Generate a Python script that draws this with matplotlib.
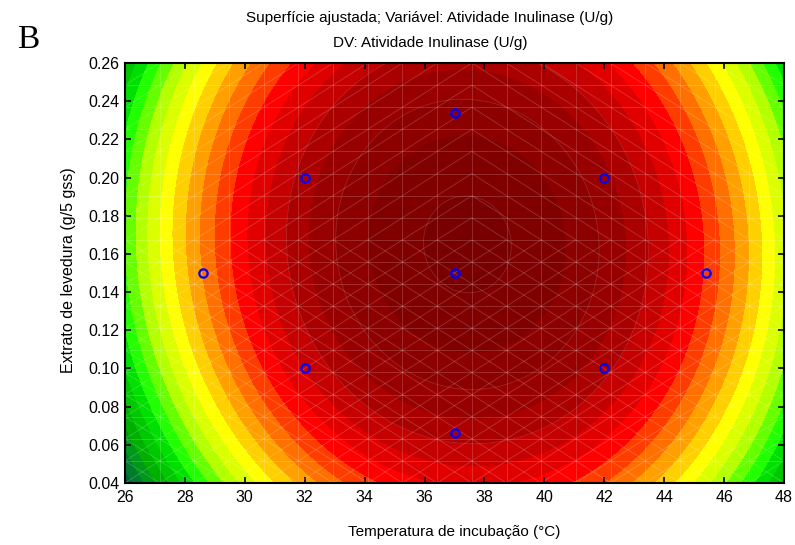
import numpy as np
import matplotlib.pyplot as plt
from matplotlib.colors import ListedColormap, BoundaryNorm
from matplotlib.collections import LineCollection

plt.rcParams['font.family'] = ['Liberation Sans', 'DejaVu Sans']

# Pontos experimentais do planejamento (DCCR)
temp_pts = [32, 32, 42, 42, 28.6, 45.4, 37, 37, 37]
ext_pts = [0.10, 0.20, 0.10, 0.20, 0.15, 0.15, 0.066, 0.234, 0.15]

# Modelo ajustado (forma canônica em torno do ótimo)
t_opt = 37.43      # °C
e_opt = 0.165      # g/5 gss
ativ_max = 49.5    # U/g
k_tt = 0.2332
k_ee = 780.0
k_te = 0.92

# Níveis das curvas e cores das faixas (do menor para o maior)
niveis = np.arange(5, 53, 2)
cores = ['#00643a', '#007d2c', '#009818', '#00b000', '#00c800', '#00e000',
         '#22ff00', '#66ff00', '#b4ff00', '#dcff00', '#ffff00', '#ffd000',
         '#ffa000', '#ff7000', '#ff3c00', '#ff0000', '#e00000', '#c40000',
         '#aa0000', '#980000', '#8c0000', '#800000', '#780000']

x_ticks = np.arange(26, 49, 2)
y_ticks = np.arange(0.04, 0.261, 0.02)
x_lim = (26, 48)
y_lim = (0.04, 0.26)

T, E = np.meshgrid(np.linspace(*x_lim, 500), np.linspace(*y_lim, 500))
Z = (ativ_max - k_tt * (T - t_opt) ** 2 - k_ee * (E - e_opt) ** 2
     - k_te * (T - t_opt) * (E - e_opt))

fig = plt.figure(figsize=(7.95, 5.45), dpi=100)
ax = fig.add_axes([125 / 795, 1 - 483 / 545, 659 / 795, 420 / 545])

cmap = ListedColormap(cores)
norm = BoundaryNorm(niveis, cmap.N)
ax.contourf(T, E, Z, levels=niveis, cmap=cmap, norm=norm)
ax.contour(T, E, Z, levels=[41, 45, 49], colors='white',
           linewidths=0.6, alpha=0.15)

# Malha da superfície
gx = np.linspace(*x_lim, 20)
gy = np.linspace(*y_lim, 20)
segs = []
for x in gx[1:-1]:
    segs.append([(x, y_lim[0]), (x, y_lim[1])])
for y in gy[1:-1]:
    segs.append([(x_lim[0], y), (x_lim[1], y)])
for i in range(19):
    for j in range(19):
        x0, x1 = gx[i], gx[i + 1]
        y0, y1 = gy[j], gy[j + 1]
        cx = 0.5 * (x0 + x1)
        if y0 >= e_opt:
            if cx < t_opt:
                segs.append([(x0, y0), (x1, y1)])
            else:
                segs.append([(x0, y1), (x1, y0)])
        else:
            segs.append([(x0, y0), (x1, y1)])
            segs.append([(x0, y1), (x1, y0)])
ax.add_collection(LineCollection(segs, colors='white', linewidths=0.6,
                                 alpha=0.2))

ax.plot(temp_pts, ext_pts, 'o', mfc='none', mec='#0000ff', ms=6, mew=1.6)

ax.set_xlim(*x_lim)
ax.set_ylim(*y_lim)
ax.set_xticks(x_ticks)
ax.set_yticks(y_ticks)
ax.set_xticklabels([f'{v:d}' for v in x_ticks])
ax.set_yticklabels([f'{v:.2f}' for v in y_ticks])
ax.tick_params(direction='in', length=4, width=1.2, top=True, right=True,
               labelsize=11.5, colors='black')
ax.tick_params(axis='x', pad=5)
ax.tick_params(axis='y', pad=4)
for s in ax.spines.values():
    s.set_linewidth(1.5)

xt = 430 / 795
fig.text(xt, 1 - 18 / 545, 'Superfície ajustada; Variável: Atividade Inulinase (U/g)',
         ha='center', va='center', fontsize=11)
fig.text(xt, 1 - 43 / 545, 'DV: Atividade Inulinase (U/g)',
         ha='center', va='center', fontsize=11)
fig.text(454 / 795, 1 - 532 / 545, 'Temperatura de incubação (°C)',
         ha='center', va='center', fontsize=11)
fig.text(68 / 795, 1 - 270 / 545, 'Extrato de levedura (g/5 gss)',
         ha='center', va='center', rotation=90, fontsize=11.5)
fig.text(28 / 795, 1 - 40 / 545, 'B', family='Liberation Serif',
         ha='center', va='center', fontsize=24)

fig.savefig('out.png', dpi=100)
